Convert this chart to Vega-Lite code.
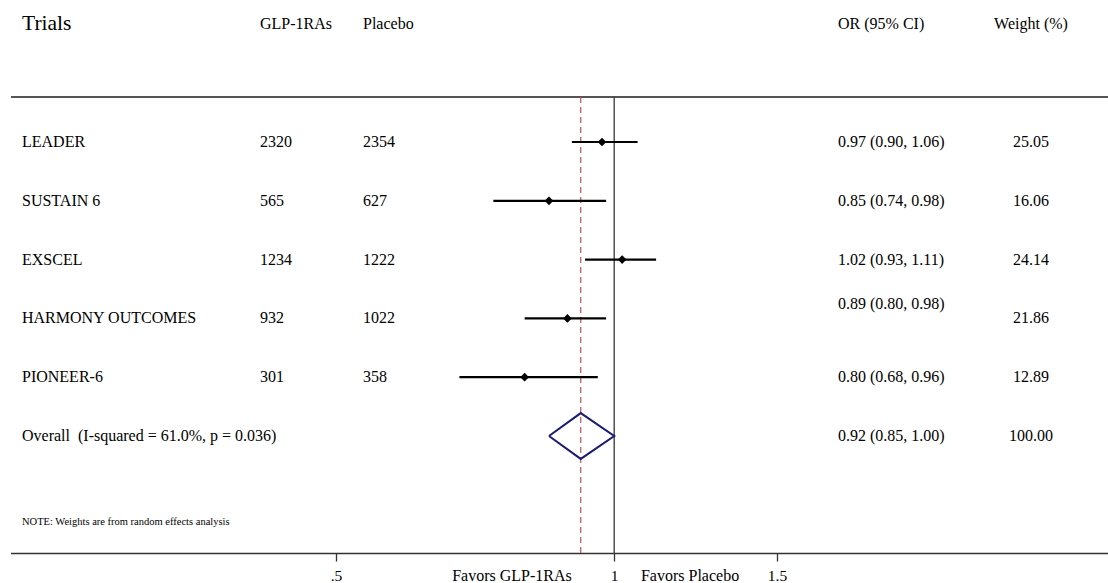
{
  "$schema": "https://vega.github.io/schema/vega-lite/v6.json",
  "width": 1108,
  "height": 583,
  "autosize": "none",
  "padding": 0,
  "background": "white",
  "config": {
    "font": "'Liberation Serif', 'Times New Roman', serif",
    "text": {"font": "'Liberation Serif', 'Times New Roman', serif"},
    "view": {"stroke": null},
    "axisY": {"disable": true}
  },
  "datasets": {
    "trials": [
      {"trial": "LEADER", "row": 1, "glp": "2320", "pla": "2354", "or": 0.97, "lo": 0.90, "hi": 1.06, "ci": "0.97 (0.90, 1.06)", "w": "25.05", "overall": false},
      {"trial": "SUSTAIN 6", "row": 2, "glp": "565", "pla": "627", "or": 0.85, "lo": 0.74, "hi": 0.98, "ci": "0.85 (0.74, 0.98)", "w": "16.06", "overall": false},
      {"trial": "EXSCEL", "row": 3, "glp": "1234", "pla": "1222", "or": 1.02, "lo": 0.93, "hi": 1.11, "ci": "1.02 (0.93, 1.11)", "w": "24.14", "overall": false},
      {"trial": "HARMONY OUTCOMES", "row": 4, "glp": "932", "pla": "1022", "or": 0.89, "lo": 0.80, "hi": 0.98, "ci": "0.89 (0.80, 0.98)", "w": "21.86", "overall": false},
      {"trial": "PIONEER-6", "row": 5, "glp": "301", "pla": "358", "or": 0.80, "lo": 0.68, "hi": 0.96, "ci": "0.80 (0.68, 0.96)", "w": "12.89", "overall": false},
      {"trial": "Overall \u00a0(I-squared = 61.0%, p = 0.036)", "row": 6, "glp": "", "pla": "", "or": 0.92, "lo": 0.85, "hi": 1.00, "ci": "0.92 (0.85, 1.00)", "w": "100.00", "overall": true}
    ],
    "diamond": [
      {"x": 0.85, "y": 6, "k": 0},
      {"x": 0.92, "y": 5.61, "k": 1},
      {"x": 1.00, "y": 6, "k": 2},
      {"x": 0.92, "y": 6.39, "k": 3},
      {"x": 0.85, "y": 6, "k": 4}
    ],
    "labels": [
      {"key": "trials", "text": "Trials"},
      {"key": "glp", "text": "GLP-1RAs"},
      {"key": "pla", "text": "Placebo"},
      {"key": "or", "text": "OR (95% CI)"},
      {"key": "wt", "text": "Weight (%)"},
      {"key": "note", "text": "NOTE: Weights are from random effects analysis"},
      {"key": "favl", "text": "Favors GLP-1RAs"},
      {"key": "favr", "text": "Favors Placebo"}
    ]
  },
  "data": {"name": "trials"},
  "layer": [
    {
      "mark": {"type": "rule", "color": "#555555", "strokeWidth": 2},
      "encoding": {
        "x": {"datum": 0.2225, "type": "quantitative", "scale": {"type": "log", "domain": [0.2165, 3.4218], "nice": false, "zero": false}},
        "x2": {"datum": 3.4218},
        "y": {"datum": 0.235, "type": "quantitative", "scale": {"domain": [-1.415, 8.5], "reverse": true, "nice": false, "zero": false}}
      },
      "data": {"values": [{}]}
    },
    {
      "mark": {"type": "rule", "color": "#333333", "strokeWidth": 1.5},
      "encoding": {
        "x": {"datum": 0.2225, "type": "quantitative"},
        "x2": {"datum": 3.4218},
        "y": {"datum": 8, "type": "quantitative"}
      },
      "data": {"values": [{}]}
    },
    {
      "mark": {"type": "rule", "color": "#444444", "strokeWidth": 1.4},
      "encoding": {
        "x": {"datum": 1, "type": "quantitative"},
        "y": {"datum": 0.235, "type": "quantitative"},
        "y2": {"datum": 8}
      },
      "data": {"values": [{}]}
    },
    {
      "mark": {"type": "rule", "color": "#c0505a", "strokeWidth": 1.2, "strokeDash": [6, 4]},
      "transform": [{"filter": "datum.overall"}],
      "encoding": {
        "x": {"field": "or", "type": "quantitative", "title": null},
        "y": {"datum": 0.235, "type": "quantitative"},
        "y2": {"datum": 8}
      }
    },
    {
      "mark": {"type": "rule", "color": "black", "strokeWidth": 2.2},
      "transform": [{"filter": "!datum.overall"}],
      "encoding": {
        "x": {"field": "lo", "type": "quantitative", "axis": {
          "title": null, "orient": "bottom", "offset": -30, "values": [0.5, 1, 1.5],
          "labelExpr": "datum.value == 0.5 ? '.5' : datum.value == 1 ? '1' : '1.5'",
          "domain": false, "grid": false, "ticks": true, "tickSize": 8, "tickColor": "#333333", "tickWidth": 1.3,
          "labelFont": "'Liberation Serif', 'Times New Roman', serif", "labelFontSize": 15.5, "labelColor": "black", "labelPadding": 7,
          "labelFlush": false, "labelOverlap": false
        }},
        "x2": {"field": "hi"},
        "y": {"field": "row", "type": "quantitative", "axis": null}
      }
    },
    {
      "mark": {"type": "point", "shape": "diamond", "filled": true, "color": "black", "opacity": 1, "size": 75},
      "transform": [{"filter": "!datum.overall"}],
      "encoding": {
        "x": {"field": "or", "type": "quantitative", "title": null},
        "y": {"field": "row", "type": "quantitative", "axis": null}
      }
    },
    {
      "data": {"name": "diamond"},
      "mark": {"type": "line", "color": "#1c1c72", "strokeWidth": 2, "strokeJoin": "miter"},
      "encoding": {
        "x": {"field": "x", "type": "quantitative", "title": null},
        "y": {"field": "y", "type": "quantitative", "axis": null},
        "order": {"field": "k", "type": "quantitative"}
      }
    },
    {
      "mark": {"type": "text", "align": "left", "baseline": "middle", "fontSize": 16, "color": "black", "font": "'Liberation Serif', 'Times New Roman', serif"},
      "encoding": {
        "x": {"datum": 0.2287, "type": "quantitative"},
        "y": {"field": "row", "type": "quantitative", "axis": null},
        "text": {"field": "trial"}
      }
    },
    {
      "mark": {"type": "text", "align": "left", "baseline": "middle", "fontSize": 16, "color": "black", "font": "'Liberation Serif', 'Times New Roman', serif"},
      "encoding": {
        "x": {"datum": 0.4138, "type": "quantitative"},
        "y": {"field": "row", "type": "quantitative", "axis": null},
        "text": {"field": "glp"}
      }
    },
    {
      "mark": {"type": "text", "align": "left", "baseline": "middle", "fontSize": 16, "color": "black", "font": "'Liberation Serif', 'Times New Roman', serif"},
      "encoding": {
        "x": {"datum": 0.5348, "type": "quantitative"},
        "y": {"field": "row", "type": "quantitative", "axis": null},
        "text": {"field": "pla"}
      }
    },
    {
      "mark": {"type": "text", "align": "left", "baseline": "middle", "fontSize": 16, "color": "black", "font": "'Liberation Serif', 'Times New Roman', serif"},
      "transform": [{"filter": "datum.trial != 'HARMONY OUTCOMES'"}],
      "encoding": {
        "x": {"datum": 1.7464, "type": "quantitative"},
        "y": {"field": "row", "type": "quantitative", "axis": null},
        "text": {"field": "ci"}
      }
    },
    {
      "mark": {"type": "text", "align": "left", "baseline": "middle", "fontSize": 16, "color": "black", "dy": -14, "font": "'Liberation Serif', 'Times New Roman', serif"},
      "transform": [{"filter": "datum.trial == 'HARMONY OUTCOMES'"}],
      "encoding": {
        "x": {"datum": 1.7464, "type": "quantitative"},
        "y": {"field": "row", "type": "quantitative", "axis": null},
        "text": {"field": "ci"}
      }
    },
    {
      "mark": {"type": "text", "align": "center", "baseline": "middle", "fontSize": 16, "color": "black", "font": "'Liberation Serif', 'Times New Roman', serif"},
      "encoding": {
        "x": {"datum": 2.8246, "type": "quantitative"},
        "y": {"field": "row", "type": "quantitative", "axis": null},
        "text": {"field": "w"}
      }
    },
    {
      "data": {"name": "labels"},
      "transform": [{"filter": "datum.key == 'trials'"}],
      "mark": {"type": "text", "align": "left", "baseline": "middle", "fontSize": 21.5, "color": "black", "font": "'Liberation Serif', 'Times New Roman', serif"},
      "encoding": {
        "x": {"datum": 0.2287, "type": "quantitative"},
        "y": {"datum": -1, "type": "quantitative"},
        "text": {"field": "text"}
      }
    },
    {
      "data": {"name": "labels"},
      "transform": [{"filter": "datum.key == 'glp'"}],
      "mark": {"type": "text", "align": "left", "baseline": "middle", "fontSize": 16, "color": "black", "font": "'Liberation Serif', 'Times New Roman', serif"},
      "encoding": {
        "x": {"datum": 0.4138, "type": "quantitative"},
        "y": {"datum": -1, "type": "quantitative"},
        "text": {"field": "text"}
      }
    },
    {
      "data": {"name": "labels"},
      "transform": [{"filter": "datum.key == 'pla'"}],
      "mark": {"type": "text", "align": "left", "baseline": "middle", "fontSize": 16, "color": "black", "font": "'Liberation Serif', 'Times New Roman', serif"},
      "encoding": {
        "x": {"datum": 0.5348, "type": "quantitative"},
        "y": {"datum": -1, "type": "quantitative"},
        "text": {"field": "text"}
      }
    },
    {
      "data": {"name": "labels"},
      "transform": [{"filter": "datum.key == 'or'"}],
      "mark": {"type": "text", "align": "left", "baseline": "middle", "fontSize": 16, "color": "black", "font": "'Liberation Serif', 'Times New Roman', serif"},
      "encoding": {
        "x": {"datum": 1.7464, "type": "quantitative"},
        "y": {"datum": -1, "type": "quantitative"},
        "text": {"field": "text"}
      }
    },
    {
      "data": {"name": "labels"},
      "transform": [{"filter": "datum.key == 'wt'"}],
      "mark": {"type": "text", "align": "center", "baseline": "middle", "fontSize": 16, "color": "black", "font": "'Liberation Serif', 'Times New Roman', serif"},
      "encoding": {
        "x": {"datum": 2.8246, "type": "quantitative"},
        "y": {"datum": -1, "type": "quantitative"},
        "text": {"field": "text"}
      }
    },
    {
      "data": {"name": "labels"},
      "transform": [{"filter": "datum.key == 'note'"}],
      "mark": {"type": "text", "align": "left", "baseline": "middle", "fontSize": 10.5, "color": "black", "font": "'Liberation Serif', 'Times New Roman', serif"},
      "encoding": {
        "x": {"datum": 0.2287, "type": "quantitative"},
        "y": {"datum": 7.463, "type": "quantitative"},
        "text": {"field": "text"}
      }
    },
    {
      "data": {"name": "labels"},
      "transform": [{"filter": "datum.key == 'favl'"}],
      "mark": {"type": "text", "align": "center", "baseline": "middle", "fontSize": 16, "color": "black", "font": "'Liberation Serif', 'Times New Roman', serif"},
      "encoding": {
        "x": {"datum": 0.7752, "type": "quantitative"},
        "y": {"datum": 8.38, "type": "quantitative"},
        "text": {"field": "text"}
      }
    },
    {
      "data": {"name": "labels"},
      "transform": [{"filter": "datum.key == 'favr'"}],
      "mark": {"type": "text", "align": "center", "baseline": "middle", "fontSize": 16, "color": "black", "font": "'Liberation Serif', 'Times New Roman', serif"},
      "encoding": {
        "x": {"datum": 1.2079, "type": "quantitative"},
        "y": {"datum": 8.38, "type": "quantitative"},
        "text": {"field": "text"}
      }
    }
  ]
}
